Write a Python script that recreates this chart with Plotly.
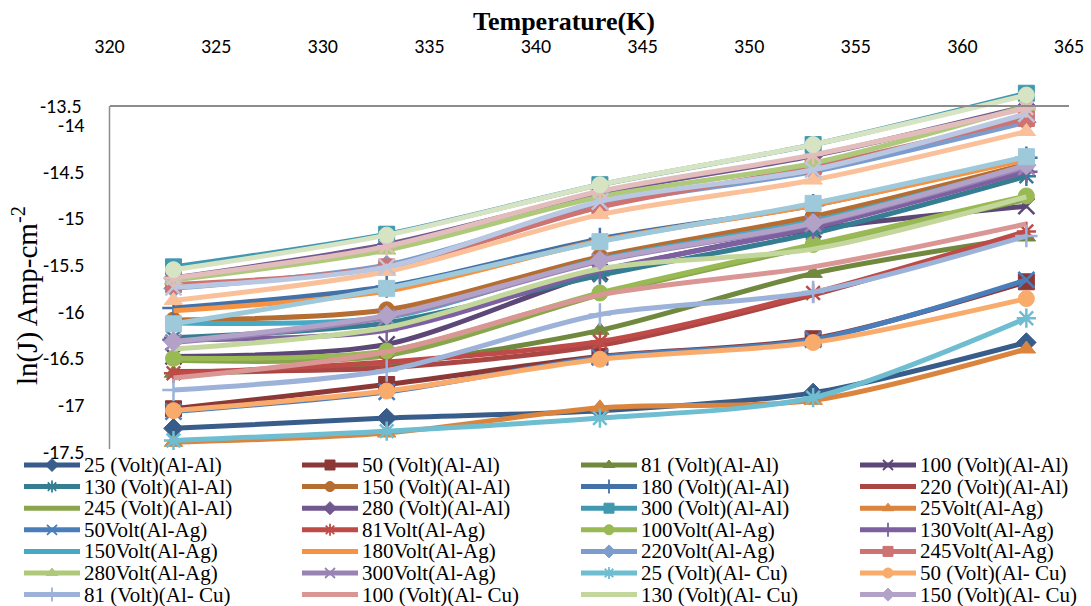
import plotly.graph_objects as go

# ---------------- data ----------------
temperature_K = [323, 333, 343, 353, 363]
voltages = [25, 50, 81, 100, 130, 150, 180, 220, 245, 280, 300]

ln_j_al_al = [
    [-17.25, -17.14, -17.06, -16.87, -16.33],  # 25
    [-17.04, -16.78, -16.48, -16.29, -15.68],  # 50
    [-16.66, -16.57, -16.20, -15.59, -15.20],  # 81
    [-16.48, -16.35, -15.58, -15.12, -14.87],  # 100
    [-16.28, -16.12, -15.61, -15.16, -14.55],  # 130
    [-16.09, -15.98, -15.41, -14.98, -14.42],  # 150
    [-15.96, -15.73, -15.22, -14.86, -14.35],  # 180
    [-16.64, -16.60, -16.36, -15.82, -15.15],  # 220
    [-16.52, -16.47, -15.82, -15.30, -14.80],  # 245
    [-15.64, -15.28, -14.73, -14.33, -13.80],  # 280
    [-15.52, -15.17, -14.64, -14.21, -13.66],  # 300
]
ln_j_al_ag = [
    [-17.40, -17.30, -17.03, -16.95, -16.40],  # 25
    [-17.07, -16.86, -16.49, -16.30, -15.66],  # 50
    [-16.66, -16.54, -16.32, -15.80, -15.14],  # 81
    [-16.50, -16.42, -15.80, -15.28, -14.76],  # 100
    [-16.30, -16.20, -15.56, -15.10, -14.50],  # 130
    [-16.12, -16.06, -15.44, -15.03, -14.44],  # 150
    [-15.99, -15.78, -15.24, -14.86, -14.37],  # 180
    [-15.75, -15.50, -14.86, -14.50, -13.97],  # 220
    [-15.71, -15.52, -14.88, -14.45, -13.93],  # 245
    [-15.66, -15.34, -14.77, -14.41, -13.80],  # 280
    [-16.33, -16.06, -15.46, -15.06, -14.45],  # 300
]
ln_j_al_cu = [
    [-17.38, -17.28, -17.14, -16.92, -16.07],  # 25
    [-17.06, -16.85, -16.51, -16.33, -15.86],  # 50
    [-16.84, -16.63, -16.03, -15.79, -15.19],  # 81
    [-16.71, -16.43, -15.82, -15.52, -15.06],  # 100
    [-16.40, -16.17, -15.54, -15.33, -14.77],  # 130
    [-16.32, -16.04, -15.45, -15.05, -14.43],  # 150
    [-16.13, -15.75, -15.25, -14.84, -14.34],  # 180
    [-15.88, -15.57, -14.96, -14.59, -14.07],  # 220
    [-15.74, -15.52, -14.82, -14.48, -13.88],  # 245
    [-15.64, -15.30, -14.71, -14.32, -13.82],  # 280
    [-15.55, -15.18, -14.64, -14.21, -13.68],  # 300
]

names_al_al = [f"{v} (Volt)(Al-Al)" for v in voltages]
names_al_ag = [f"{v}Volt(Al-Ag)" for v in voltages]
names_al_cu = [f"{v} (Volt)(Al- Cu)" for v in voltages]

x_tick_values = [320, 325, 330, 335, 340, 345, 350, 355, 360, 365]
y_tick_values = [-14, -14.5, -15, -15.5, -16, -16.5, -17, -17.5]
y_tick_labels = ["-14", "-14.5", "-15", "-15.5", "-16", "-16.5", "-17", "-17.5"]
y_top_label = "-13.5"
legend_shown = 28

# ---------------- styles ----------------
colors = [
    "#385D8A", "#8C3836", "#71893F", "#5C4776", "#357D91", "#B66D31",
    "#4471A8", "#AA4643", "#89A54E", "#71588F", "#4198AF",
    "#DB843D", "#4A7EBB", "#BE4B48", "#98B954", "#7D60A0", "#46AAC5",
    "#F69240", "#7C9CCD", "#CD7371", "#AFC97A", "#9983B5",
    "#6FBDD1", "#F9AB6B", "#9CB2D9", "#D99694", "#C3D69B", "#B3A2C7",
    "#9DC9DA", "#FAC09A", "#B9C7E2", "#E2BDBC", "#D7E4C4",
]
marker_cycle = ["diamond", "square", "triangle-up", "x-thin-open", "asterisk-open",
                "circle", "cross-thin-open", None, None]
open_symbols = {"x-thin-open", "asterisk-open", "cross-thin-open"}

W, H = 1091, 606
def pxx(p):
    return p / W
def pxy(p):
    return 1 - p / H

X_LEFT, X_RIGHT = 109.5, 1069.0
Y_TOP_VAL_PX, Y_BOT_PX = 78.3, 451.7      # -13.5 and -17.5
AXIS_LINE_PX = 106.0

all_names = names_al_al + names_al_ag + names_al_cu
all_values = ln_j_al_al + ln_j_al_ag + ln_j_al_cu

fig = go.Figure()

def marker_style(sym, color, size):
    if sym is None:
        return None
    if sym in open_symbols:
        return dict(symbol=sym, size=size, color=color, line=dict(color=color, width=2.5))
    return dict(symbol=sym, size=size, color=color, line=dict(color=color, width=1))

for i, (name, vals) in enumerate(zip(all_names, all_values)):
    sym = marker_cycle[i % len(marker_cycle)]
    ms = marker_style(sym, colors[i], 16 if sym != "diamond" else 15)
    fig.add_trace(go.Scatter(
        x=temperature_K, y=vals, name=name,
        mode="lines+markers" if ms else "lines",
        line=dict(color=colors[i], width=5, shape="spline", smoothing=0.8),
        marker=ms, showlegend=False, xaxis="x", yaxis="y", cliponaxis=False,
    ))

# ---------------- manual legend (4 columns x 7 rows) ----------------
col_x = [24, 302, 581, 860]
row_y0, row_dy = 465, 21.6
sample_len = 56
annotations = []
for k in range(legend_shown):
    r, c = divmod(k, 4)
    x0 = col_x[c]
    y = row_y0 + r * row_dy
    fig.add_trace(go.Scatter(
        x=[x0, x0 + sample_len], y=[y, y], mode="lines",
        line=dict(color=colors[k], width=5), showlegend=False,
        hoverinfo="skip", xaxis="x2", yaxis="y2"))
    sym = marker_cycle[k % len(marker_cycle)]
    ms = marker_style(sym, colors[k], 10)
    if ms:
        if sym in open_symbols:
            ms["line"]["width"] = 1.8
        fig.add_trace(go.Scatter(
            x=[x0 + sample_len / 2], y=[y], mode="markers", marker=ms,
            showlegend=False, hoverinfo="skip", xaxis="x2", yaxis="y2"))
    annotations.append(dict(
        x=x0 + sample_len + 2, y=y, xref="x2", yref="y2", text=all_names[k],
        showarrow=False, xanchor="left", yanchor="middle",
        font=dict(family="Liberation Serif, Times New Roman, serif", size=21, color="#000000")))

# titles and the top y label
annotations.append(dict(
    x=pxx(564), y=pxy(22), xref="paper", yref="paper", text="<b>Temperature(K)</b>",
    showarrow=False, xanchor="center", yanchor="middle",
    font=dict(family="Liberation Serif, Times New Roman, serif", size=26, color="#000000")))
annotations.append(dict(
    x=pxx(25), y=pxy(296), xref="paper", yref="paper", text="ln(J) Amp-cm<sup>-2</sup>",
    textangle=-90, showarrow=False, xanchor="center", yanchor="middle",
    font=dict(family="Liberation Serif, Times New Roman, serif", size=29, color="#000000")))
annotations.append(dict(
    x=pxx(84), y=pxy(AXIS_LINE_PX), xref="paper", yref="paper", text=y_top_label,
    showarrow=False, xanchor="right", yanchor="middle",
    font=dict(family="Carlito, Liberation Sans, Arial, sans-serif", size=20, color="#000000")))

tick_font = dict(family="Carlito, Liberation Sans, Arial, sans-serif", size=20, color="#000000")

fig.update_layout(
    width=W, height=H,
    margin=dict(l=0, r=0, t=0, b=0, pad=0, autoexpand=False),
    paper_bgcolor="white", plot_bgcolor="rgba(0,0,0,0)",
    showlegend=False,
    xaxis=dict(
        domain=[pxx(X_LEFT), pxx(X_RIGHT)], range=[320, 365],
        tickmode="array", tickvals=x_tick_values, ticktext=[str(v) for v in x_tick_values],
        side="top", anchor="free", position=pxy(AXIS_LINE_PX),
        showline=True, linecolor="#8C8C8C", linewidth=1.5,
        ticks="", ticklabelstandoff=44, showgrid=False, zeroline=False,
        tickfont=tick_font, automargin=False,
    ),
    yaxis=dict(
        domain=[pxy(Y_BOT_PX), pxy(Y_TOP_VAL_PX)], range=[-17.5, -13.5],
        tickmode="array", tickvals=y_tick_values, ticktext=y_tick_labels,
        anchor="x", showline=False, ticks="", ticklabelstandoff=24,
        showgrid=False, zeroline=False, tickfont=tick_font, automargin=False,
    ),
    xaxis2=dict(domain=[0, 1], range=[0, W], visible=False, anchor="y2",
                fixedrange=True, automargin=False),
    yaxis2=dict(domain=[0, 1], range=[H, 0], visible=False, anchor="x2",
                fixedrange=True, automargin=False),
    annotations=annotations,
    shapes=[dict(type="line", xref="paper", yref="paper",
                 x0=pxx(X_LEFT), x1=pxx(X_LEFT), y0=pxy(449), y1=pxy(AXIS_LINE_PX),
                 line=dict(color="#8C8C8C", width=1.5))],
)

fig.write_html(
    "out.html",
    config={"displayModeBar": False},
    post_script="document.body.style.margin='0';document.body.style.padding='0';"
                "document.body.style.overflow='hidden';",
)
